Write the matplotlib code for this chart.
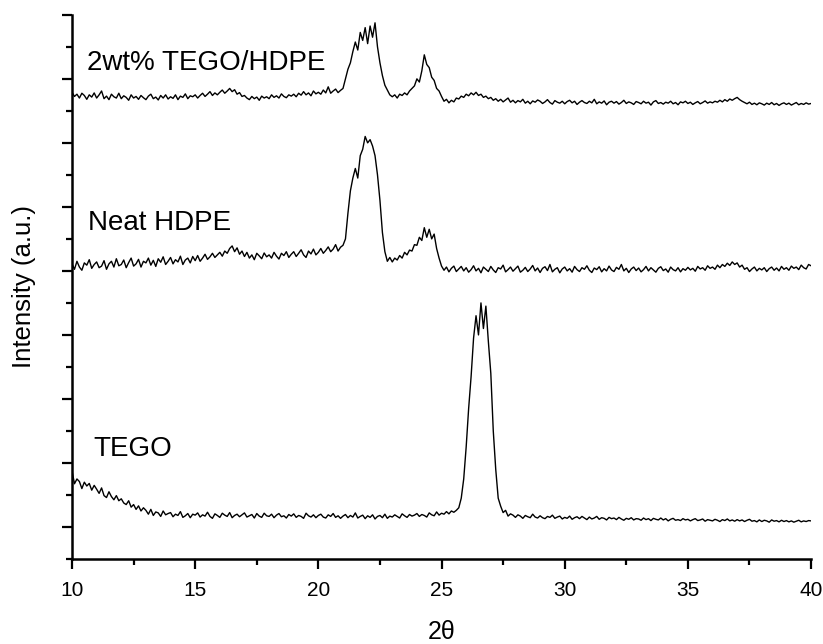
import matplotlib.pyplot as plt
import numpy as np
from matplotlib.ticker import MultipleLocator

plt.rcParams['font.family'] = ['Liberation Sans', 'DejaVu Sans']

# 2theta scan grid, 10..40 in 0.1 steps
two_theta = np.round(np.arange(100, 401) / 10.0, 1)

# intensities (a.u., stacked offsets included)
tego = [
    2.75, 2.35, 2.5, 2.42, 2.2, 2.4, 2.28, 2.36, 2.15, 2.3,
    2.18, 2.05, 2.22, 1.98, 1.92, 2.1, 1.95, 1.85, 1.98, 1.82,
    1.88, 1.75, 1.7, 1.82, 1.62, 1.7, 1.55, 1.66, 1.5, 1.6,
    1.52, 1.4, 1.55, 1.36, 1.47, 1.44, 1.33, 1.5, 1.38, 1.42,
    1.45, 1.32, 1.4, 1.36, 1.48, 1.3, 1.35, 1.42, 1.29, 1.4,
    1.37, 1.44, 1.31, 1.38, 1.34, 1.46, 1.33, 1.27, 1.41, 1.36,
    1.3, 1.43, 1.37, 1.33, 1.45, 1.29, 1.36, 1.4, 1.32, 1.38,
    1.44, 1.31, 1.35, 1.39, 1.28, 1.42, 1.34, 1.3, 1.43, 1.35,
    1.33, 1.4, 1.29, 1.37, 1.42, 1.32, 1.35, 1.28, 1.39, 1.34,
    1.41, 1.3, 1.36, 1.33, 1.27, 1.43, 1.35, 1.31, 1.38, 1.29,
    1.36, 1.4, 1.31, 1.28, 1.38, 1.33, 1.42, 1.3, 1.35, 1.27,
    1.34, 1.39, 1.29, 1.36, 1.31, 1.44, 1.28, 1.33, 1.37, 1.26,
    1.35, 1.3, 1.38, 1.25, 1.33, 1.36, 1.29, 1.4, 1.27, 1.34,
    1.31, 1.38, 1.33, 1.28, 1.41, 1.35, 1.3, 1.39, 1.34, 1.37,
    1.42, 1.33, 1.39, 1.36, 1.31, 1.44, 1.38, 1.35, 1.47, 1.37,
    1.43, 1.4, 1.48, 1.41, 1.5, 1.46, 1.52, 1.6, 1.9, 2.5,
    3.5, 4.7, 5.7, 6.9, 7.6, 7.0, 8.0, 7.2, 7.9, 6.8,
    5.8, 4.0, 2.8, 1.9, 1.65, 1.45, 1.52, 1.34, 1.41, 1.37,
    1.3, 1.38, 1.34, 1.27, 1.36, 1.32, 1.29, 1.4, 1.31, 1.28,
    1.35, 1.29, 1.26, 1.33, 1.3, 1.37, 1.27, 1.31, 1.34, 1.25,
    1.3, 1.27, 1.34, 1.24, 1.29, 1.32, 1.26, 1.33, 1.28, 1.23,
    1.31, 1.25, 1.28, 1.33, 1.24, 1.29, 1.27, 1.22, 1.3, 1.26,
    1.28, 1.23, 1.3, 1.25, 1.21, 1.27, 1.24, 1.29, 1.22, 1.26,
    1.25, 1.21, 1.28, 1.23, 1.26, 1.2, 1.27, 1.24, 1.22, 1.28,
    1.22, 1.26, 1.19, 1.24, 1.27, 1.21, 1.23, 1.2, 1.26, 1.22,
    1.24, 1.19, 1.23, 1.26, 1.2, 1.22, 1.25, 1.18, 1.23, 1.21,
    1.19, 1.24, 1.21, 1.17, 1.23, 1.2, 1.25, 1.19, 1.22, 1.18,
    1.23, 1.19, 1.22, 1.17, 1.21, 1.24, 1.18, 1.2, 1.16, 1.22,
    1.17, 1.21, 1.19, 1.15, 1.22, 1.18, 1.2, 1.16, 1.21, 1.17,
    1.2, 1.16, 1.19, 1.15, 1.18, 1.21, 1.16, 1.19, 1.17, 1.2,
    1.19,
]

neat_hdpe = [
    9.22, 9.05, 9.3, 9.12, 9.02, 9.25, 9.18, 9.35, 9.08, 9.2,
    9.28, 9.1, 9.15, 9.32, 9.05, 9.22, 9.3, 9.12, 9.38, 9.16,
    9.2, 9.34, 9.1, 9.26, 9.4, 9.15, 9.22, 9.36, 9.12, 9.3,
    9.25, 9.4, 9.18, 9.33, 9.14, 9.38, 9.27, 9.44, 9.2, 9.3,
    9.42, 9.22, 9.35, 9.28, 9.46, 9.2, 9.34, 9.4, 9.25, 9.45,
    9.32, 9.48, 9.3, 9.4, 9.52, 9.36, 9.44, 9.55, 9.42, 9.5,
    9.58, 9.46, 9.62, 9.55, 9.7, 9.78, 9.6, 9.72, 9.52, 9.62,
    9.45, 9.58, 9.4, 9.5, 9.35, 9.55, 9.47, 9.38, 9.56, 9.44,
    9.5, 9.4, 9.58, 9.46, 9.37, 9.55, 9.48, 9.6, 9.42, 9.52,
    9.6, 9.45, 9.55, 9.66, 9.5, 9.42, 9.62, 9.53, 9.68, 9.5,
    9.58, 9.7, 9.55, 9.64, 9.75, 9.6, 9.68, 9.82, 9.62, 9.74,
    9.8, 10.0, 10.8, 11.5, 11.9, 12.2, 11.9, 12.6, 12.8, 13.2,
    13.0, 13.1, 12.9, 12.6, 12.0, 11.2, 10.2, 9.6, 9.3, 9.42,
    9.28, 9.4, 9.34, 9.48, 9.4, 9.58, 9.5, 9.65, 9.62, 9.82,
    9.8, 10.05, 9.95, 10.35, 10.05, 10.3, 10.0, 10.15, 9.7, 9.4,
    9.15, 9.02, 9.12, 8.97, 9.08, 9.15, 8.98, 9.06, 9.14, 9.0,
    9.1, 8.96, 9.04, 9.16, 9.0, 9.08, 8.94, 9.12, 9.05, 8.98,
    9.14, 9.03, 8.95, 9.1, 9.06, 9.18, 8.97, 9.04, 9.12, 8.99,
    9.07, 9.15, 8.96, 9.02, 9.11, 8.98, 9.06, 9.17, 9.0, 9.09,
    8.95, 9.08, 9.13, 9.01, 9.2, 8.97, 9.05, 9.1, 8.94, 9.06,
    9.12, 9.0, 9.07, 8.96, 9.14, 9.04, 8.98, 9.1, 9.05, 9.16,
    9.02, 8.95, 9.09, 9.04, 9.13, 8.97, 9.07, 9.0, 9.15, 9.03,
    8.98, 9.11, 9.05, 9.2, 9.0, 9.08, 8.95, 9.06, 9.12, 9.01,
    9.09, 8.97, 9.04, 9.14, 9.0, 9.1, 9.03, 8.96, 9.08, 9.13,
    9.01, 9.06, 8.96, 9.12, 9.04, 9.0, 9.1, 8.97, 9.07, 9.02,
    9.11, 9.03, 9.08, 8.99, 9.14, 9.06, 9.1, 9.02, 9.16, 9.08,
    9.12, 9.05, 9.18, 9.1, 9.2, 9.14, 9.24, 9.17, 9.28, 9.2,
    9.25, 9.12, 9.18, 9.05, 9.1, 8.98, 9.06, 9.12, 9.0, 9.08,
    9.03, 9.1, 8.98, 9.07, 9.12, 9.02, 9.09, 9.0, 9.14, 9.05,
    9.1, 9.02, 9.15, 9.08, 9.12, 9.04, 9.18, 9.1, 9.06, 9.2,
    9.16,
]

tego_hdpe = [
    14.58, 14.45, 14.52, 14.4, 14.55, 14.48, 14.36, 14.5, 14.43, 14.56,
    14.4, 14.5, 14.62, 14.38, 14.46, 14.35, 14.52, 14.44, 14.4, 14.55,
    14.38, 14.47, 14.42, 14.33, 14.5, 14.4, 14.45, 14.36, 14.48, 14.41,
    14.35, 14.46, 14.52, 14.38, 14.43, 14.34, 14.48, 14.4, 14.5, 14.37,
    14.44, 14.39, 14.5, 14.35, 14.46, 14.42, 14.53, 14.38, 14.47, 14.44,
    14.5, 14.4, 14.48, 14.55, 14.45, 14.52, 14.6, 14.48, 14.56, 14.5,
    14.58, 14.65, 14.55, 14.62, 14.7, 14.6, 14.66, 14.52, 14.57, 14.45,
    14.48, 14.4, 14.35, 14.45, 14.38, 14.43, 14.33, 14.46, 14.4, 14.44,
    14.38, 14.5, 14.42, 14.47, 14.4, 14.53, 14.45, 14.41, 14.5, 14.46,
    14.52, 14.44, 14.55, 14.49, 14.6, 14.5, 14.56, 14.47, 14.62, 14.53,
    14.58, 14.52, 14.65, 14.56, 14.75, 14.55, 14.62, 14.68, 14.57, 14.64,
    14.7, 15.0, 15.3, 15.5, 15.85, 16.15, 15.9, 16.45, 16.2, 16.6,
    16.1, 16.65, 16.3, 16.75, 16.0, 15.5, 15.1, 14.8, 14.65, 14.5,
    14.44, 14.5, 14.4, 14.52, 14.48, 14.56, 14.5, 14.62, 14.7, 14.78,
    15.0, 14.9, 15.25, 15.75, 15.45, 15.35, 15.05, 14.95, 14.7, 14.62,
    14.45, 14.3, 14.36, 14.25, 14.33, 14.28, 14.4, 14.37, 14.46, 14.42,
    14.52, 14.47, 14.56, 14.5, 14.58, 14.48, 14.52, 14.42, 14.46, 14.38,
    14.42, 14.33, 14.38, 14.3, 14.36, 14.28, 14.34, 14.4, 14.27, 14.33,
    14.25, 14.32, 14.28, 14.36, 14.24, 14.3, 14.22, 14.31, 14.27, 14.34,
    14.3, 14.23, 14.28, 14.35, 14.26, 14.21, 14.32, 14.27, 14.24, 14.3,
    14.22, 14.29, 14.33, 14.25, 14.3, 14.2, 14.27, 14.32, 14.26, 14.23,
    14.3, 14.25, 14.36, 14.22, 14.28, 14.24, 14.31, 14.19, 14.27, 14.3,
    14.24, 14.29, 14.21, 14.26, 14.33, 14.23, 14.28, 14.25, 14.2, 14.29,
    14.26, 14.22, 14.3, 14.24, 14.27, 14.18, 14.28, 14.32, 14.23, 14.26,
    14.21, 14.27, 14.24, 14.3, 14.22, 14.26, 14.19, 14.28, 14.25, 14.3,
    14.23, 14.27, 14.2, 14.25, 14.29, 14.22, 14.26, 14.31, 14.24, 14.28,
    14.25, 14.3, 14.27, 14.33, 14.28, 14.35, 14.3, 14.37, 14.33, 14.38,
    14.42, 14.35, 14.3, 14.26, 14.22, 14.27, 14.2, 14.24, 14.19, 14.25,
    14.22, 14.18, 14.24, 14.2, 14.26, 14.19, 14.23, 14.17, 14.22, 14.25,
    14.2, 14.24, 14.18, 14.22, 14.26, 14.19, 14.23, 14.2, 14.25, 14.21,
    14.23,
]

labels = ['2wt% TEGO/HDPE', 'Neat HDPE', 'TEGO']
label_pos = [(10.6, 15.5), (10.65, 10.5), (10.85, 3.45)]

fig = plt.figure(figsize=(8.23, 6.44), dpi=100)
ax = fig.add_axes([0.0875, 0.132, 0.898, 0.845])

for y in (tego, neat_hdpe, tego_hdpe):
    ax.plot(two_theta, y, color='black', lw=1.0)

for txt, (x, y) in zip(labels, label_pos):
    ax.text(x, y, txt, fontsize=20, va='center', ha='left')

ax.set_xlim(10, 40)
ax.set_ylim(0, 17)
ax.xaxis.set_major_locator(MultipleLocator(5))
ax.xaxis.set_minor_locator(MultipleLocator(2.5))
ax.set_yticks(np.arange(1, 18, 2))
ax.yaxis.set_minor_locator(MultipleLocator(1))
ax.set_yticklabels([])

ax.spines['top'].set_visible(False)
ax.spines['right'].set_visible(False)
ax.spines['left'].set_linewidth(1.8)
ax.spines['bottom'].set_linewidth(1.8)
ax.tick_params(which='major', direction='out', length=7, width=1.6, labelsize=15, pad=9)
ax.tick_params(which='minor', direction='out', length=4, width=1.6)

ax.set_xlabel('2θ', fontsize=18, labelpad=14)
ax.set_ylabel('Intensity (a.u.)', fontsize=18.5, labelpad=10)

plt.savefig('out.png', dpi=100)
